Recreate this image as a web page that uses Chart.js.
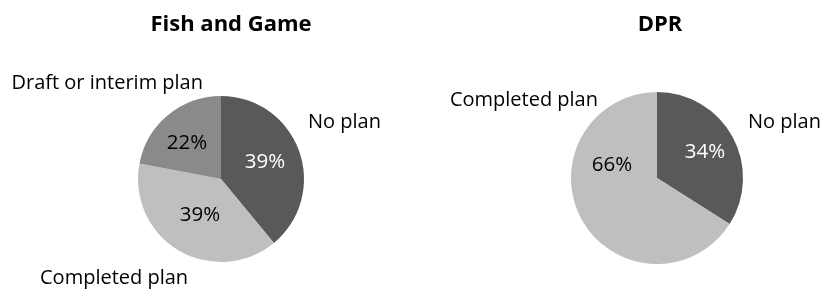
<!DOCTYPE html>
<html>
<head>
<meta charset="utf-8">
<script src="https://cdn.jsdelivr.net/npm/chart.js@4"></script>
<style>
  html, body { margin: 0; padding: 0; background: #fff; }
  #wrap { position: relative; width: 825px; height: 292px; }
  .box { position: absolute; top: 0; height: 292px; }
  #boxFG { left: 0; width: 412px; }
  #boxDPR { left: 412px; width: 413px; }
</style>
</head>
<body>
<div id="wrap">
  <div class="box" id="boxFG"><canvas id="chartFG"></canvas></div>
  <div class="box" id="boxDPR"><canvas id="chartDPR"></canvas></div>
</div>
<script>
// Dữ liệu biểu đồ
const fgTitle = 'Fish and Game';
const fgLabels = ['No plan', 'Completed plan', 'Draft or interim plan'];
const fgValues = [39, 39, 22];
const fgColors = ['#595959', '#bfbfbf', '#8a8a8a'];

const dprTitle = 'DPR';
const dprLabels = ['No plan', 'Completed plan'];
const dprValues = [34, 66];
const dprColors = ['#595959', '#bfbfbf'];

const fontFamily = '"Open Sans", "DejaVu Sans", sans-serif';

// Plugin vẽ tiêu đề, nhãn ngoài và phần trăm trong lát
const pieText = {
  id: 'pieText',
  afterDatasetsDraw(chart, args, opts) {
    const ctx = chart.ctx;
    const arc0 = chart.getDatasetMeta(0).data[0];
    const cx = arc0.x, cy = arc0.y;
    const values = chart.data.datasets[0].data;
    const total = values.reduce((a, b) => a + b, 0);
    ctx.save();
    ctx.textBaseline = 'middle';

    // tiêu đề
    ctx.fillStyle = '#000';
    ctx.font = 'bold 22px ' + fontFamily;
    ctx.textAlign = 'center';
    ctx.fillText(opts.title, cx + opts.titleDx, 25);

    chart.data.labels.forEach((label, i) => {
      const o = opts.outside[i];
      ctx.font = '20px ' + fontFamily;
      ctx.fillStyle = '#000';
      ctx.textAlign = o.align;
      ctx.fillText(label, cx + o.dx, cy + o.dy);

      const p = opts.inside[i];
      ctx.font = '20.5px ' + fontFamily;
      ctx.fillStyle = opts.insideColors[i];
      ctx.textAlign = 'center';
      ctx.fillText(Math.round(values[i] / total * 100) + '%', cx + p.dx, cy + p.dy);
    });
    ctx.restore();
  }
};

function makePie(id, labels, values, colors, padding, textOpts) {
  return new Chart(document.getElementById(id), {
    type: 'pie',
    data: {
      labels: labels,
      datasets: [{
        data: values,
        backgroundColor: colors,
        borderWidth: 0
      }]
    },
    options: {
      responsive: true,
      maintainAspectRatio: false,
      animation: false,
      rotation: 0,
      layout: { padding: padding },
      plugins: {
        legend: { display: false },
        tooltip: { enabled: false },
        title: { display: false },
        pieText: textOpts
      }
    },
    plugins: [pieText]
  });
}

makePie('chartFG', fgLabels, fgValues, fgColors,
  { left: 138, right: 108, top: 96, bottom: 30 },
  {
    title: fgTitle,
    titleDx: 10,
    outside: [
      { dx: 87, dy: -57, align: 'left' },
      { dx: -181, dy: 99, align: 'left' },
      { dx: -18, dy: -96, align: 'right' }
    ],
    inside: [
      { dx: 44, dy: -17 },
      { dx: -21, dy: 36 },
      { dx: -34, dy: -36 }
    ],
    insideColors: ['#fff', '#000', '#000']
  });

makePie('chartDPR', dprLabels, dprValues, dprColors,
  { left: 159, right: 82, top: 92, bottom: 28 },
  {
    title: dprTitle,
    titleDx: 3,
    outside: [
      { dx: 91, dy: -56, align: 'left' },
      { dx: -59, dy: -78, align: 'right' }
    ],
    inside: [
      { dx: 48, dy: -26 },
      { dx: -45, dy: -13 }
    ],
    insideColors: ['#fff', '#000']
  });
</script>
</body>
</html>
